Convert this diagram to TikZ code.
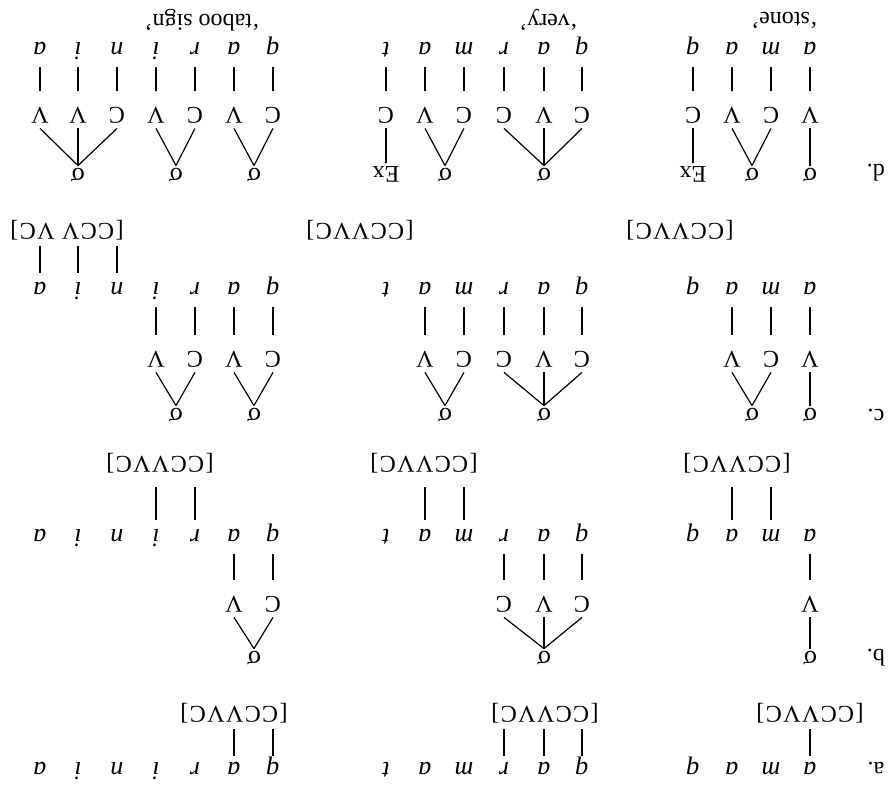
\documentclass[tikz,border=0pt]{standalone}
\usepackage{fontspec}
\setmainfont{Liberation Serif}
\usepackage{tikz}

\begin{document}
\begin{tikzpicture}[x=0.5pt,y=-0.5pt,rotate=180,transform shape]
        \tikzstyle{every node}+=[font=\fontsize{12}{14}\selectfont]
        \tikzstyle{seg}=[inner sep=1pt,text height=6pt,text depth=1pt,font=\fontsize{13}{15}\selectfont\itshape]
        \tikzstyle{cv}=[inner sep=2pt,text height=8pt,text depth=0pt]
        \tikzstyle{syl}=[inner sep=1.5pt,text height=6pt,text depth=0pt,font=\fontsize{13}{15}\selectfont]
        \tikzstyle{tmpl}=[inner sep=1pt,font=\fontsize{12}{14}\selectfont\addfontfeatures{LetterSpace=6}]
        \tikzstyle{assoc}=[black,line width=0.6pt]
        \tikzstyle{down}=[assoc,shorten <=6.5pt,shorten >=5pt]
        \useasboundingbox (0,0) rectangle (889,793);
        % segment rows: stone, very, taboo sign
        \foreach \row/\y in {a/25,b/258,c/505,d/745}{
          \foreach \sg/\x [count=\idx] in {a/79,m/118,a/157,q/196}
            \node[seg] (\row s\idx) at (\x,\y) {\sg};
          \foreach \sg/\x [count=\idx] in {q/307,a/345,r/385,m/425,a/464,t/503}
            \node[seg] (\row v\idx) at (\x,\y) {\sg};
          \foreach \sg/\x [count=\idx] in {q/616,a/655,r/694,i/733,n/772,i/811,a/849}
            \node[seg] (\row t\idx) at (\x,\y) {\sg};
        }
        \coordinate (cvb) at (0,188);
        \coordinate (cvc) at (0,433);
        \coordinate (cvd) at (0,677);
        % a.
        \node (la) at (13,25) {a.};
        \node[tmpl] (asT) at (79,80) {[CCVVC]};
        \node[tmpl] (avT) at (344,80) {[CCVVC]};
        \node[tmpl] (atT) at (655,80) {[CCVVC]};
        \draw[assoc,shorten <=1.5pt,shorten >=2pt] (as1) -- (as1 |- asT.north);
        \foreach \s in {av1,av2,av3} \draw[assoc,shorten <=1.5pt,shorten >=2pt] (\s) -- (\s |- avT.north);
        \foreach \s in {at1,at2} \draw[assoc,shorten <=1.5pt,shorten >=2pt] (\s) -- (\s |- atT.north);
        % b.
        \node (lb) at (13,135) {b.};
        \foreach \s/\l in {bs1/V,bv1/C,bv2/V,bv3/C,bt1/C,bt2/V}{
          \node[cv] (c\s) at (\s |- cvb) {\l};
          \draw[down] (c\s) -- (\s);
        }
        \node[syl] (bsy1) at (79,135) {σ};
        \draw[assoc] (bsy1.south) -- (cbs1.north);
        \node[syl] (bvy1) at (345,135) {σ};
        \foreach \s in {bv1,bv2,bv3} \draw[assoc] (bvy1.south) -- (c\s.north);
        \node[syl] (bty1) at (635,135) {σ};
        \foreach \s in {bt1,bt2} \draw[assoc] (bty1.south) -- (c\s.north);
        \node[tmpl] (bsT) at (152,330) {[CCVVC]};
        \node[tmpl] (bvT) at (465,330) {[CCVVC]};
        \node[tmpl] (btT) at (729,330) {[CCVVC]};
        \foreach \s in {bs2,bs3} \draw[assoc,shorten <=3pt,shorten >=6pt] (\s) -- (\s |- bsT.north);
        \foreach \s in {bv4,bv5} \draw[assoc,shorten <=3pt,shorten >=6pt] (\s) -- (\s |- bvT.north);
        \foreach \s in {bt3,bt4} \draw[assoc,shorten <=3pt,shorten >=6pt] (\s) -- (\s |- btT.north);
        % c.
        \node (lc) at (13,378) {c.};
        \foreach \s/\l in {cs1/V,cs2/C,cs3/V,cv1/C,cv2/V,cv3/C,cv4/C,cv5/V,ct1/C,ct2/V,ct3/C,ct4/V}{
          \node[cv] (c\s) at (\s |- cvc) {\l};
          \draw[down] (c\s) -- (\s);
        }
        \node[syl] (csy1) at (79,378) {σ};
        \draw[assoc] (csy1.south) -- (ccs1.north);
        \node[syl] (csy2) at (137,378) {σ};
        \foreach \s in {cs2,cs3} \draw[assoc] (csy2.south) -- (c\s.north);
        \node[syl] (cvy1) at (345,378) {σ};
        \foreach \s in {cv1,cv2,cv3} \draw[assoc] (cvy1.south) -- (c\s.north);
        \node[syl] (cvy2) at (444,378) {σ};
        \foreach \s in {cv4,cv5} \draw[assoc] (cvy2.south) -- (c\s.north);
        \node[syl] (cty1) at (635,378) {σ};
        \foreach \s in {ct1,ct2} \draw[assoc] (cty1.south) -- (c\s.north);
        \node[syl] (cty2) at (713,378) {σ};
        \foreach \s in {ct3,ct4} \draw[assoc] (cty2.south) -- (c\s.north);
        \node[tmpl] (csT) at (209,563) {[CCVVC]};
        \node[tmpl] (cvT) at (529,563) {[CCVVC]};
        \node[tmpl] (ctT) at (822,563) {[CCV VC]};
        \foreach \s in {ct5,ct6,ct7} \draw[assoc,shorten <=3pt,shorten >=2pt] (\s) -- (\s |- ctT.north);
        % d.
        \node (ld) at (13,620) {d.};
        \foreach \s/\l in {ds1/V,ds2/C,ds3/V,ds4/C,dv1/C,dv2/V,dv3/C,dv4/C,dv5/V,dv6/C,dt1/C,dt2/V,dt3/C,dt4/V,dt5/C,dt6/V,dt7/V}{
          \node[cv] (c\s) at (\s |- cvd) {\l};
          \draw[down] (c\s) -- (\s);
        }
        \node[syl] (dsy1) at (79,618) {σ};
        \draw[assoc] (dsy1.south) -- (cds1.north);
        \node[syl] (dsy2) at (137,618) {σ};
        \foreach \s in {ds2,ds3} \draw[assoc] (dsy2.south) -- (c\s.north);
        \node[cv] (dsx) at (196,618) {Ex};
        \draw[assoc] (dsx) -- (cds4);
        \node[syl] (dvy1) at (345,618) {σ};
        \foreach \s in {dv1,dv2,dv3} \draw[assoc] (dvy1.south) -- (c\s.north);
        \node[syl] (dvy2) at (444,618) {σ};
        \foreach \s in {dv4,dv5} \draw[assoc] (dvy2.south) -- (c\s.north);
        \node[cv] (dvx) at (503,618) {Ex};
        \draw[assoc] (dvx) -- (cdv6);
        \node[syl] (dty1) at (635,618) {σ};
        \foreach \s in {dt1,dt2} \draw[assoc] (dty1.south) -- (c\s.north);
        \node[syl] (dty2) at (713,618) {σ};
        \foreach \s in {dt3,dt4} \draw[assoc] (dty2.south) -- (c\s.north);
        \node[syl] (dty3) at (811,618) {σ};
        \foreach \s in {dt5,dt6,dt7} \draw[assoc] (dty3.south) -- (c\s.north);
        % glosses
        \node[anchor=west] (sgl) at (64,773) {‘stone’};
        \node[anchor=west] (vgl) at (304,773) {‘very’};
        \node[anchor=west] (tgl) at (622,773) {‘taboo sign’};
\end{tikzpicture}
\end{document}
